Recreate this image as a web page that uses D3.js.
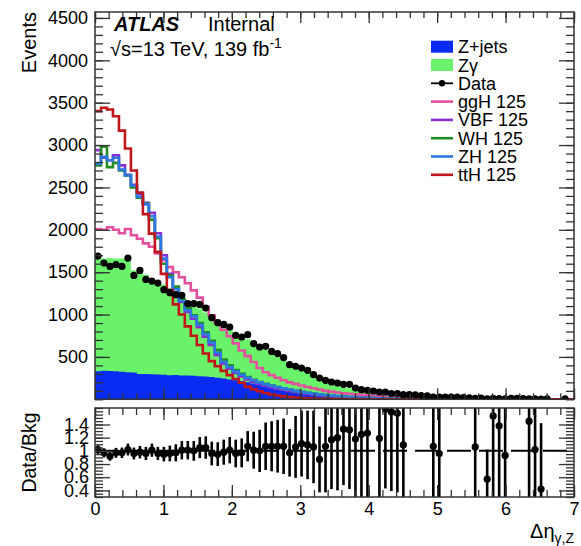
<!DOCTYPE html>
<html><head><meta charset="utf-8">
<script src="https://cdn.jsdelivr.net/npm/d3@7"></script>
<style>
body{margin:0;background:#fff}
text{font-family:"Liberation Sans",Arial,Helvetica,sans-serif;fill:#000}
</style></head>
<body><svg id="c" width="581" height="546"></svg>
<script>
// ---------------- data ----------------
const nBins = 80, xLo = 0, xHi = 7;
const xTicks = [0,1,2,3,4,5,6,7];
const yTicksMain = [500,1000,1500,2000,2500,3000,3500,4000,4500];
const yTicksRatio = [0.4,0.6,0.8,1,1.2,1.4];

const zjets = [
 330,338,335,330,325,318,315,300,298,295,
 292,290,285,288,280,282,278,272,268,262,
 255,245,235,225,212,200,185,170,158,145,
 132,120,108,98,88,80,72,64,57,50,
 44,39,34,30,26,22,19,16,14,12,
 10,9,8,7,6,5,4,4,3,3,
 2,2,2,2,1,1,1,1,1,1,
 1,1,1,1,1,1,1,1,1,1];
const zgamma = [
 1335,1322,1333,1332,1335,1337,1205,1230,1172,1125,
 1108,1065,1025,982,940,868,842,798,757,728,
 690,655,615,570,543,510,475,450,427,390,
 368,340,312,277,252,230,208,191,158,130,
 116,101,96,82,69,63,57,54,44,36,
 34,31,28,25,22,20,18,16,15,13,
 12,10,9,8,8,7,6,5,5,4,
 4,3,3,2,2,1,1,1,0.5,0.5];
const dataVals = [
 1690,1607,1568,1588,1568,1666,1462,1521,1415,1395,
 1371,1293,1258,1234,1226,1128,1128,1120,1076,963,
 904,884,852,755,735,763,657,617,625,565,
 539,492,409,389,369,342,291,251,224,204,
 192,177,177,133,114,106,98,86,86,67,
 67,55,55,53,45,40,27,25,27,27,
 25,20,18,10,15,5,11,8,6,12,
 10,8,6,4,1,6,null,null,4,null];
const ratioVals = [
 1.02,0.97,0.92,0.97,0.97,1.02,0.96,0.98,0.96,1.01,
 0.96,0.95,0.96,0.97,1.01,1.01,1.0,1.05,1.05,0.96,
 0.95,0.98,1.01,0.96,0.97,1.07,1.01,1.0,1.07,1.07,
 1.07,1.07,0.97,1.06,1.11,1.09,1.06,0.87,1.07,1.17,
 1.2,1.33,1.32,1.18,1.25,1.27,null,1.19,1.63,1.59,
 1.57,1.09,null,null,null,null,1.07,0.96,null,null,
 null,null,null,1.06,null,0.57,1.53,1.38,0.93,null,
 null,null,1.45,1.02,0.42,null,null,null,null,null];
const ratioErr = [
 0.065,0.07,0.07,0.075,0.08,0.09,0.09,0.095,0.1,0.1,
 0.1,0.11,0.12,0.13,0.14,0.14,0.15,0.16,0.17,0.18,
 0.18,0.19,0.2,0.21,0.22,0.23,0.28,0.32,0.36,0.38,
 0.4,0.42,0.36,0.47,0.5,0.52,0.55,0.5,0.7,0.75,
 0.8,0.85,0.9,0.9,1.0,1.0,null,1.1,1.2,1.2,
 1.2,1.3,null,null,null,null,1.5,1.5,null,null,
 null,null,null,2,null,0.45,2,2,2,null,
 null,null,2,2,1.0,null,null,null,null,null];

const ggH = [
 2010,2000,2030,2000,1960,2010,1935,1895,1840,1800,
 1720,1640,1560,1500,1440,1370,1285,1200,1090,990,
 900,820,745,660,575,510,440,370,320,285,
 255,225,200,182,163,145,130,115,100,90,
 80,72,65,58,52,46,40,35,30,26,
 22,19,16,14,12,10,8,7,6,5,
 4,3.5,3,2.6,2.3,2,1.8,1.6,1.4,1.2,
 1.1,1,0.9,0.8,0.7,0.6,0.5,0.5,0.4,0.4];
const VBF = [
 2940,2850,2820,2880,2760,2650,2530,2420,2320,2200,
 1960,1700,1480,1320,1150,1030,950,850,740,640,
 520,420,360,310,270,235,205,180,160,142,
 126,112,99,87,76,66,57,49,42,36,
 31,27,23,20,17,14.5,12.5,10.5,9,7.5,
 6.4,5.4,4.6,3.9,3.3,2.8,2.4,2,1.7,1.5,
 1.3,1.1,1,0.9,0.8,0.7,0.6,0.5,0.5,0.4,
 0.4,0.3,0.3,0.3,0.2,0.2,0.2,0.1,0.1,0.1];
const WH = [
 2760,2980,2740,2790,2700,2640,2500,2380,2310,2120,
 1900,1600,1460,1330,1180,1080,990,900,790,690,
 580,470,400,345,300,262,230,205,182,162,
 146,130,115,100,88,77,66,57,49,42,
 36,31,26,22,19,16,13.5,11.5,9.5,8,
 6.8,5.8,4.9,4.1,3.5,3,2.5,2.1,1.8,1.5,
 1.3,1.1,1,0.9,0.8,0.7,0.6,0.5,0.5,0.4,
 0.4,0.3,0.3,0.3,0.2,0.2,0.2,0.1,0.1,0.1];
const ZH = [
 2780,2860,2820,2850,2710,2640,2520,2390,2300,2160,
 1920,1660,1440,1300,1160,1050,980,880,770,670,
 550,440,380,330,290,255,225,200,178,160,
 145,130,115,100,88,77,67,58,50,43,
 37,32,27,23,20,17,14,12,10,8,
 7,6,5,4,3.5,3,2.5,2,1.7,1.5,
 1.3,1.1,1,0.9,0.8,0.7,0.6,0.5,0.5,0.4,
 0.4,0.3,0.3,0.3,0.2,0.2,0.2,0.1,0.1,0.1];
const ttH = [
 3400,3440,3420,3340,3170,2960,2700,2440,2185,1955,
 1740,1480,1290,1120,1000,860,750,640,540,450,
 390,335,285,240,195,150,120,95,75,58,
 45,35,27,21,16,12,9,7,5.5,4.5,
 3.6,3,2.5,2,1.6,1.3,1.1,0.9,0.8,0.7,
 0.6,0.5,0.45,0.4,0.35,0.3,0.25,0.2,0.2,0.15,
 0.15,0.1,0.1,0.1,0.1,0.1,0.05,0.05,0.05,0.05,
 0.05,0.05,0.05,0.05,0,0,0,0,0,0];

const bkgNames = ["Z+jets","Z\u03b3"];
const bkgColors = ["#0a2cf2","#6af26a"];
const sigNames = ["ggH 125","VBF 125","WH 125","ZH 125","ttH 125"];
const sigColors = ["#e2509e","#8a2fd2","#238c23","#2b78e2","#c0151b"];
const sigSeries = [ggH, VBF, WH, ZH, ttH];

// ---------------- layout ----------------
const L = 95, R = 574, mT = 12, mB = 399.3, rT = 408, rB = 497;
const svg = d3.select("#c");
svg.append("rect").attr("width",581).attr("height",546).attr("fill","#fff");

const edges = d3.range(nBins+1).map(i => xLo + i*(xHi-xLo)/nBins);
const centers = d3.range(nBins).map(i => (edges[i]+edges[i+1])/2);
const x = d3.scaleLinear([xLo,xHi],[L,R]);
const y = d3.scaleLinear([0,4570],[mB,mT]);
const yr = d3.scaleLinear([0.3,1.65],[rB,rT]);

const defs = svg.append("defs");
defs.append("clipPath").attr("id","cm").append("rect").attr("x",L).attr("y",mT).attr("width",R-L).attr("height",mB-mT);
defs.append("clipPath").attr("id","cr").append("rect").attr("x",L).attr("y",rT).attr("width",R-L).attr("height",rB-rT);

// ---------------- main pad ----------------
const gm = svg.append("g").attr("clip-path","url(#cm)");
const rows = d3.range(nBins+1).map(i => { const j=Math.min(i,nBins-1); return {e:edges[i], zjets:zjets[j], zgamma:zgamma[j]}; });
const stack = d3.stack().keys(["zjets","zgamma"])(rows);
const area = d3.area().curve(d3.curveStepAfter).x(d=>x(d.data.e)).y0(()=>y(0)).y1(d=>y(d[1]));
gm.append("path").attr("d",area(stack[1])).attr("fill",bkgColors[1]);
gm.append("path").attr("d",area(stack[0])).attr("fill",bkgColors[0]);

const stepLine = d3.line().curve(d3.curveStepAfter).x(d=>x(d[0])).y(d=>y(d[1]));
sigSeries.forEach((s,k) => {
  const pts = edges.map((e,i)=>[e, s[Math.min(i,nBins-1)]]);
  gm.append("path").attr("d",stepLine(pts)).attr("fill","none")
    .attr("stroke",sigColors[k]).attr("stroke-width",2.6).attr("stroke-linejoin","miter");
});
gm.selectAll("circle.d").data(centers.map((c,i)=>[c,dataVals[i]]).filter(d=>d[1]!==null))
  .join("circle").attr("cx",d=>x(d[0])).attr("cy",d=>y(d[1])).attr("r",3.6).attr("fill","#000");

// ---------------- ratio pad ----------------
const gr = svg.append("g").attr("clip-path","url(#cr)");
gr.append("line").attr("x1",L).attr("x2",R).attr("y1",yr(1)).attr("y2",yr(1))
  .attr("stroke","#000").attr("stroke-width",2).attr("stroke-dasharray","24,8");
const rpts = centers.map((c,i)=>({c, v:ratioVals[i], e:ratioErr[i]})).filter(d=>d.v!==null);
gr.selectAll("line.eb").data(rpts).join("line")
  .attr("x1",d=>x(d.c)).attr("x2",d=>x(d.c)).attr("y1",d=>yr(d.v-d.e)).attr("y2",d=>yr(d.v+d.e))
  .attr("stroke","#000").attr("stroke-width",2.6);
gr.selectAll("circle.r").data(rpts).join("circle")
  .attr("cx",d=>x(d.c)).attr("cy",d=>yr(d.v)).attr("r",3.6).attr("fill","#000");

// ---------------- axes ----------------
const tickCol = "#333";
function style(g, fs){
  g.select(".domain").remove();
  g.selectAll(".tick line").attr("stroke",tickCol).attr("stroke-width",1.3);
  g.selectAll(".tick text").attr("font-size",fs).attr("font-family","Liberation Sans, Arial, sans-serif").attr("fill","#000");
}
function minorVals(lo,hi,step){ return d3.range(Math.round((hi-lo)/step)+1).map(i=>+(lo+i*step).toFixed(6)); }
const xMinor = minorVals(0,7,0.2);
const intFmt = d3.format("d");
const rFmt = d => String(+d.toFixed(1));
// main pad
svg.append("g").attr("transform",`translate(${L},0)`).call(d3.axisLeft(y).tickValues(yTicksMain).tickSize(-15).tickPadding(7).tickFormat(intFmt)).call(g=>style(g,18));
svg.append("g").attr("transform",`translate(${L},0)`).call(d3.axisLeft(y).tickValues(minorVals(0,4500,100)).tickSize(-8).tickFormat("")).call(g=>style(g,18));
svg.append("g").attr("transform",`translate(${R},0)`).call(d3.axisRight(y).tickValues(yTicksMain).tickSize(-15).tickFormat("")).call(g=>style(g,18));
svg.append("g").attr("transform",`translate(${R},0)`).call(d3.axisRight(y).tickValues(minorVals(0,4500,100)).tickSize(-8).tickFormat("")).call(g=>style(g,18));
[[mT,"top"],[mB,"bottom"]].forEach(([yy,side])=>{
  const ax = side==="top"?d3.axisTop:d3.axisBottom;
  svg.append("g").attr("transform",`translate(0,${yy})`).call(ax(x).tickValues(xTicks).tickSize(-11).tickFormat("")).call(g=>style(g,18));
  svg.append("g").attr("transform",`translate(0,${yy})`).call(ax(x).tickValues(xMinor).tickSize(-6).tickFormat("")).call(g=>style(g,18));
});
// ratio pad
svg.append("g").attr("transform",`translate(${L},0)`).call(d3.axisLeft(yr).tickValues(yTicksRatio).tickSize(-15).tickPadding(6).tickFormat(rFmt)).call(g=>style(g,18));
svg.append("g").attr("transform",`translate(${L},0)`).call(d3.axisLeft(yr).tickValues(minorVals(0.3,1.65,0.05)).tickSize(-8).tickFormat("")).call(g=>style(g,18));
svg.append("g").attr("transform",`translate(${R},0)`).call(d3.axisRight(yr).tickValues(yTicksRatio).tickSize(-15).tickFormat("")).call(g=>style(g,18));
svg.append("g").attr("transform",`translate(${R},0)`).call(d3.axisRight(yr).tickValues(minorVals(0.3,1.65,0.05)).tickSize(-8).tickFormat("")).call(g=>style(g,18));
svg.append("g").attr("transform",`translate(0,${rT})`).call(d3.axisTop(x).tickValues(xTicks).tickSize(-12).tickFormat("")).call(g=>style(g,18));
svg.append("g").attr("transform",`translate(0,${rT})`).call(d3.axisTop(x).tickValues(xMinor).tickSize(-7).tickFormat("")).call(g=>style(g,18));
svg.append("g").attr("transform",`translate(0,${rB})`).call(d3.axisBottom(x).tickValues(xTicks).tickSize(-12).tickPadding(5).tickFormat(intFmt)).call(g=>style(g,18));
svg.append("g").attr("transform",`translate(0,${rB})`).call(d3.axisBottom(x).tickValues(xMinor).tickSize(-7).tickFormat("")).call(g=>style(g,18));

// frames
svg.append("rect").attr("x",L).attr("y",mT).attr("width",R-L).attr("height",mB-mT).attr("fill","none").attr("stroke",tickCol).attr("stroke-width",1.5);
svg.append("rect").attr("x",L).attr("y",rT).attr("width",R-L).attr("height",rB-rT).attr("fill","none").attr("stroke",tickCol).attr("stroke-width",1.5);

// ---------------- titles ----------------
svg.append("text").attr("transform","translate(36,12) rotate(-90)").attr("text-anchor","end").attr("font-size",20).text("Events");
svg.append("text").attr("transform",`translate(36,${(rT+rB)/2}) rotate(-90)`).attr("text-anchor","middle").attr("font-size",19.5).text("Data/Bkg");
const xt = svg.append("text").attr("x",R).attr("y",538).attr("text-anchor","end").attr("font-size",20);
xt.append("tspan").text("\u0394\u03b7");
xt.append("tspan").attr("font-size",14).attr("dy",5).text("\u03b3,Z");

svg.append("text").attr("x",114).attr("y",30.5).attr("font-size",20).attr("font-weight","bold").attr("font-style","italic").text("ATLAS");
svg.append("text").attr("x",208).attr("y",30.5).attr("font-size",20).text("Internal");
const lt = svg.append("text").attr("x",110).attr("y",56).attr("font-size",20);
lt.append("tspan").text("\u221as=13 TeV, 139 fb");
lt.append("tspan").attr("font-size",14).attr("dy",-8).text("-1");

// ---------------- legend ----------------
const legX0 = 431, legX1 = 453, legTx = 458, legY0 = 46.7, legDy = 18.3;
const leg = svg.append("g");
const legItems = [
  {t:bkgNames[0], kind:"fill", c:bkgColors[0]},
  {t:bkgNames[1], kind:"fill", c:bkgColors[1]},
  {t:"Data", kind:"data", c:"#000"},
  ...sigNames.map((n,k)=>({t:n, kind:"line", c:sigColors[k]}))
];
legItems.forEach((it,i)=>{
  const cy = legY0 + i*legDy;
  if(it.kind==="fill") leg.append("rect").attr("x",legX0).attr("y",cy-6).attr("width",legX1-legX0).attr("height",12).attr("fill",it.c);
  else {
    leg.append("line").attr("x1",legX0).attr("x2",legX1).attr("y1",cy).attr("y2",cy).attr("stroke",it.c).attr("stroke-width",it.kind==="data"?1.8:2.6);
    if(it.kind==="data") leg.append("circle").attr("cx",(legX0+legX1)/2).attr("cy",cy).attr("r",3.2).attr("fill","#000");
  }
  leg.append("text").attr("x",legTx).attr("y",cy+6.5).attr("font-size",18).text(it.t);
});
</script></body></html>
